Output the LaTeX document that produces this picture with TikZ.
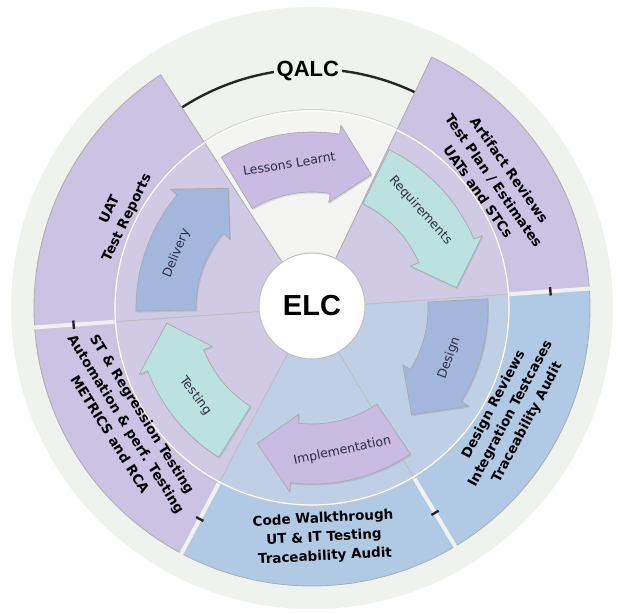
\documentclass[tikz,border=0pt]{standalone}
\usepackage{fontspec}
\setmainfont{DejaVu Sans}
\newfontfamily\headfont{Liberation Sans}
\usetikzlibrary{shadows}

\definecolor{bgring}{RGB}{240,242,238}
\definecolor{topwedge}{RGB}{244,245,242}
\definecolor{lilac}{RGB}{204,194,228}
\definecolor{skyblue}{RGB}{176,202,229}
\definecolor{innerhaze}{RGB}{215,215,232}
\definecolor{arrowlilac}{RGB}{201,187,226}
\definecolor{arrowteal}{RGB}{188,225,225}
\definecolor{arrowblue}{RGB}{163,183,220}
\definecolor{labelink}{RGB}{45,45,70}

\tikzset{
    sector/.style={draw=gray!65, line width=.8},
    gapline/.style={draw=bgring, line width=4},
    qalc/.style={draw=black!85, line width=2.4},
    qalclabel/.style={fill=bgring, inner sep=3, font=\headfont\bfseries\fontsize{22}{24}\selectfont},
    cyclearrow/.style={draw=black!35, line width=.6,
      drop shadow={opacity=.22, shadow xshift=1, shadow yshift=-1.5}},
    arrowtext/.style={text=labelink, font=\fontsize{12.5}{14}\selectfont},
    outertext/.style={align=center, font=\bfseries\fontsize{13.5}{19}\selectfont},
    elc/.style={circle, fill=white, draw=gray!50, line width=1, minimum size=106,
      font=\headfont\bfseries\fontsize{29}{30}\selectfont},
}

\newcommand{\cyclearrow}[3]{%
  \filldraw[cyclearrow, fill=#3] (#1:176) arc[start angle=#1, end angle=#2+15, radius=176]
    -- ({#2+15}:185) -- (#2:146) -- ({#2+15}:107) -- ({#2+15}:116)
    arc[start angle=#2+15, end angle=#1, radius=116] -- cycle;}

\begin{document}
\begin{tikzpicture}[x=1pt, y=1pt]
  \useasboundingbox (-312,-305) rectangle (309,308);
  \fill[bgring] (0,0) circle (301);
  \draw[qalc] (60:239) arc[start angle=60, end angle=127, radius=239];

  \filldraw[sector, fill=lilac] (0,0) -- (4:278) arc[start angle=4, end angle=64.5, radius=278] -- cycle;
  \filldraw[sector, fill=lilac] (0,0) -- (123:278) arc[start angle=123, end angle=184, radius=278] -- cycle;
  \filldraw[sector, fill=lilac] (0,0) -- (184:278) arc[start angle=184, end angle=242, radius=278] -- cycle;
  \filldraw[sector, fill=skyblue] (0,0) -- (242:278) arc[start angle=242, end angle=301, radius=278] -- cycle;
  \filldraw[sector, fill=skyblue] (0,0) -- (301:278) arc[start angle=301, end angle=364, radius=278] -- cycle;
  \fill[innerhaze, opacity=.4] (0,0) circle (197);
  \fill[topwedge] (0,0) -- (64.5:197) arc[start angle=64.5, end angle=123, radius=197] -- cycle;
  \draw[gray!65, line width=.8] (64.5:197) -- (0,0) -- (123:197);

  \draw[gapline] (4:197) -- (4:282);
  \draw[gapline] (184:197) -- (184:282);
  \draw[gapline] (242:197) -- (242:282);
  \draw[gapline] (301:197) -- (301:282);
  \draw[qalc] (3:239) arc[start angle=3, end angle=5, radius=239];
  \draw[qalc] (183:239) arc[start angle=183, end angle=185, radius=239];
  \draw[qalc] (241:239) arc[start angle=241, end angle=243, radius=239];
  \draw[qalc] (300:239) arc[start angle=300, end angle=302, radius=239];
  \node[qalclabel] (qalc) at (91:237) {QALC};

  \draw[gray!45, line width=.5] (0,0) circle (198.5);
  \draw[white, line width=1.2] (0,0) circle (197);

  \cyclearrow{121}{66}{arrowlilac}
  \cyclearrow{64}{8}{arrowteal}
  \cyclearrow{3}{-47}{arrowblue}
  \cyclearrow{-56}{-112}{arrowlilac}
  \cyclearrow{-122}{-174}{arrowteal}
  \cyclearrow{181}{125}{arrowblue}

  \node[arrowtext, rotate=9] (lessons) at (99:146) {Lessons Learnt};
  \node[arrowtext, rotate=-48] (requirements) at (42:146) {Requirements};
  \node[arrowtext, rotate=70] (design) at (-20:146) {Design};
  \node[arrowtext, rotate=12] (implementation) at (-78:146) {Implementation};
  \node[arrowtext, rotate=-53] (testing) at (-143:146) {Testing};
  \node[arrowtext, rotate=68] (delivery) at (158:146) {Delivery};

  \node[outertext, rotate=64] (uat) at (154:215) {UAT\\Test Reports};
  \node[outertext, rotate=-55] (artifact) at (35:222) {Artifact Reviews\\Test Plan / Estimates\\UATs and STCs};
  \node[outertext, rotate=62] (designrev) at (-28:225) {Design Reviews\\Integration Testcases\\Traceability Audit};
  \node[outertext, rotate=3] (codewalk) at (-87:230) {Code Walkthrough\\UT \& IT Testing\\Traceability Audit};
  \node[outertext, rotate=-58] (stregr) at (-148:219) {ST \& Regression Testing\\Automation \& perf. Testing\\METRICS and RCA};

  \node[elc] (elc) at (0,2) {ELC};
\end{tikzpicture}
\end{document}
